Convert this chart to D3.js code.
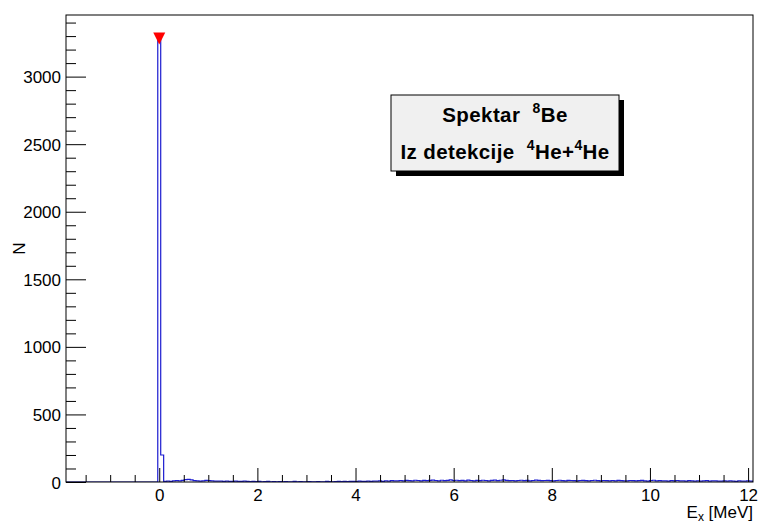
<!DOCTYPE html>
<html><head><meta charset="utf-8">
<script src="https://cdn.jsdelivr.net/npm/d3@7"></script>
<style>
html,body{margin:0;padding:0;background:#fff;}
svg{display:block;font-family:"Liberation Sans",Arial,Helvetica,sans-serif;}
</style></head>
<body><svg id="c" width="758" height="525"></svg>
<script>
// ---- data ----
const binWidth = 0.06;          // MeV
const firstEdge = -0.03;        // MeV, left edge of first bin
const counts = [
  3290, 200,
  4,6,5,8,10,9,12,18,20,16,
  10,8,7,9,12,11,8,6,7,6,
  5,6,4,5,7,5,4,6,5,3,
  4,3,5,2,3,4,2,3,1,3,
  2,3,1,2,4,2,3,1,2,3,
  2,1,3,2,2,4,3,2,3,4,
  3,4,3,5,4,3,6,5,4,6,
  5,7,6,8,5,9,7,10,8,9,
  11,9,12,10,8,13,11,9,12,10,
  12,14,11,9,13,10,12,15,11,13,
  10,12,9,14,11,8,12,10,13,11,
  9,12,14,10,13,15,12,10,11,9,
  11,13,10,12,9,11,14,12,10,11,
  12,10,8,11,13,10,9,12,11,10,
  9,11,12,10,8,11,13,10,9,11,
  10,8,11,9,12,10,8,9,11,10,
  8,10,12,9,7,11,13,9,10,8,
  9,7,10,8,11,9,8,7,10,8,
  7,9,6,8,10,7,9,8,6,7,
  8,6,9,7,5,8,6,7,9,6
];
const peakX = 0.0, peakY = 3290;   // polymarker position
const xDomain = [-1.9, 12.1];
const yDomain = [0, 3456];
const xMajorTicks = [0, 2, 4, 6, 8, 10, 12];
const yMajorTicks = [0, 500, 1000, 1500, 2000, 2500, 3000];
const xTitle = "E", xTitleSub = "x", xTitleUnit = " [MeV]";
const yTitle = "N";

// ---- layout ----
const L = 66, T = 15, R = 753, B = 482;
const svg = d3.select("#c");
const x = d3.scaleLinear().domain(xDomain).range([L, R]);
const y = d3.scaleLinear().domain(yDomain).range([B, T]);

// histogram step path
const pts = [[xDomain[0], 0], [firstEdge, 0]];
counts.forEach((c, i) => {
  const a = firstEdge + i * binWidth, b = a + binWidth;
  pts.push([a, c]); pts.push([b, c]);
});
const lastEdge = firstEdge + counts.length * binWidth;
pts.push([lastEdge, 0]); pts.push([xDomain[1], 0]);
svg.append("clipPath").attr("id","cp").append("rect")
  .attr("x", L).attr("y", T).attr("width", R - L).attr("height", B - T);
svg.append("path")
  .attr("clip-path","url(#cp)")
  .attr("d", d3.line().x(d => x(d[0])).y(d => y(d[1]))(pts))
  .attr("fill","none").attr("stroke","#1c1cd0").attr("stroke-width",1.2);

// frame
svg.append("rect").attr("x", L).attr("y", T).attr("width", R - L).attr("height", B - T)
  .attr("fill","none").attr("stroke","#000").attr("stroke-width",1);

// y axis
const yMinor = d3.range(100, yDomain[1], 100).filter(v => v % 500 !== 0);
const yAx = svg.append("g").attr("transform", `translate(${L},0)`)
  .call(d3.axisLeft(y).tickValues(yMajorTicks).tickSize(-20).tickPadding(5).tickFormat(d3.format("d")));
yAx.select(".domain").remove();
yAx.selectAll("text").attr("font-size", 17).attr("fill","#000").attr("dy","0.36em");
yAx.selectAll("line").attr("stroke","#000");
const yAxm = svg.append("g").attr("transform", `translate(${L},0)`)
  .call(d3.axisLeft(y).tickValues(yMinor).tickSize(-10).tickFormat(""));
yAxm.select(".domain").remove();
yAxm.selectAll("line").attr("stroke","#000");

// x axis
const xMinor = d3.range(-1.5, xDomain[1], 0.5).filter(v => Math.abs(v % 2) > 1e-9);
const xAx = svg.append("g").attr("transform", `translate(0,${B})`)
  .call(d3.axisBottom(x).tickValues(xMajorTicks).tickSize(-14).tickPadding(7).tickFormat(d3.format("d")));
xAx.select(".domain").remove();
xAx.selectAll("text").attr("font-size", 17).attr("fill","#000").attr("dy","0.71em");
xAx.selectAll("line").attr("stroke","#000");
const xAxm = svg.append("g").attr("transform", `translate(0,${B})`)
  .call(d3.axisBottom(x).tickValues(xMinor).tickSize(-7).tickFormat(""));
xAxm.select(".domain").remove();
xAxm.selectAll("line").attr("stroke","#000");

// axis titles
const xt = svg.append("text").attr("x", R).attr("y", 518).attr("text-anchor","end")
  .attr("font-size", 17).attr("fill","#000");
xt.append("tspan").text(xTitle);
xt.append("tspan").attr("dy", 3).attr("font-size", 12).text(xTitleSub);
xt.append("tspan").attr("dy", -3).text(xTitleUnit);
svg.append("text").attr("transform", `translate(25,${(T + B) / 2}) rotate(-90)`)
  .attr("text-anchor","middle").attr("font-size", 17).attr("fill","#000").text(yTitle);

// peak marker (inverted triangle)
const px = x(peakX), py = y(peakY);
svg.append("path")
  .attr("d", `M${px - 6},${py - 5}L${px + 6},${py - 5}L${px},${py + 7}Z`)
  .attr("fill","#ff0000");

// text box with shadow
const bx = 391, by = 95, bw = 228, bh = 76;
svg.append("rect").attr("x", bx + 5).attr("y", by + 5).attr("width", bw).attr("height", bh).attr("fill","#000");
svg.append("rect").attr("x", bx).attr("y", by).attr("width", bw).attr("height", bh)
  .attr("fill","#f0f0f0").attr("stroke","#000").attr("stroke-width",1);
const cx = bx + bw / 2;
const t1 = svg.append("text").attr("x", cx).attr("y", 122).attr("text-anchor","middle")
  .attr("font-size", 20.5).attr("font-weight","bold").attr("fill","#000")
  .attr("letter-spacing", 0.4).attr("xml:space","preserve");
t1.append("tspan").text("Spektar  ");
t1.append("tspan").attr("dy", -9).attr("font-size", 14).text("8");
t1.append("tspan").attr("dy", 9).text("Be");
const t2 = svg.append("text").attr("x", cx).attr("y", 159).attr("text-anchor","middle")
  .attr("font-size", 20.5).attr("font-weight","bold").attr("fill","#000")
  .attr("letter-spacing", 0.4).attr("xml:space","preserve");
t2.append("tspan").text("Iz detekcije  ");
t2.append("tspan").attr("dy", -9).attr("font-size", 14).text("4");
t2.append("tspan").attr("dy", 9).text("He+");
t2.append("tspan").attr("dy", -9).attr("font-size", 14).text("4");
t2.append("tspan").attr("dy", 9).text("He");
</script></body></html>
